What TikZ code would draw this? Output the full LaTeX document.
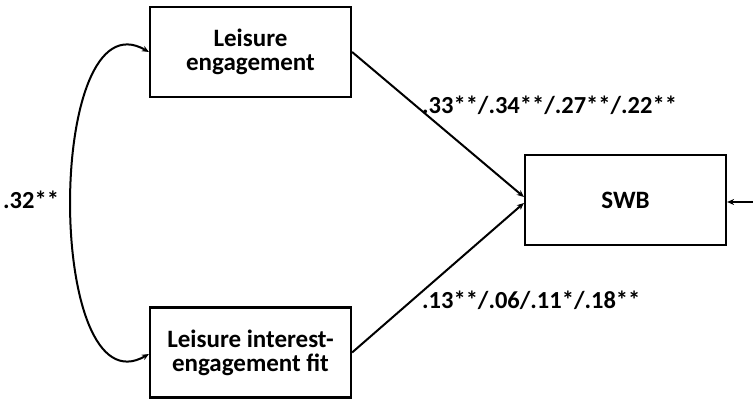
\documentclass[tikz,border=0pt]{standalone}
\usepackage{fontspec}
\setmainfont{Carlito}
\usetikzlibrary{arrows.meta}
\tikzset{
  box/.style={draw, line width=2.2pt, minimum width=201pt, minimum height=90pt, align=center, font=\bfseries\fontsize{25}{24}\selectfont, inner sep=0pt},
  lab/.style={font=\bfseries\fontsize{24.5}{24}\selectfont, inner sep=0pt, anchor=west},
  conn/.style={line width=2pt, -{Stealth[length=7pt,width=6pt]}},
}
\begin{document}
\begin{tikzpicture}[x=1pt,y=-1pt]
\useasboundingbox (0,0) rectangle (753,401);
\node[box] (top) at (250.5,52) {Leisure\\engagement};
\node[box] (bot) at (250.5,352.5) {Leisure interest-\\engagement fit};
\node[box] (swb) at (625.5,200) {SWB};
\coordinate (err) at (755,202);
\draw[conn] (top.east) -- ([yshift=3pt]swb.west);
\draw[conn] (bot.east) -- ([yshift=-3pt]swb.west);
\draw[conn] (err) -- (swb.east |- err);
\draw[line width=2pt, {Stealth[length=7pt,width=6pt]}-{Stealth[length=7pt,width=6pt]}] (top.west) .. controls +(210:120) and +(150:120) .. ([yshift=-1.5pt]bot.west);
\node[lab] (r) at (3,200) {.32**};
\node[lab] (p1) at (422,105) {.33**/.34**/.27**/.22**};
\node[lab] (p2) at (422,300) {.13**/.06/.11*/.18**};
\end{tikzpicture}
\end{document}
